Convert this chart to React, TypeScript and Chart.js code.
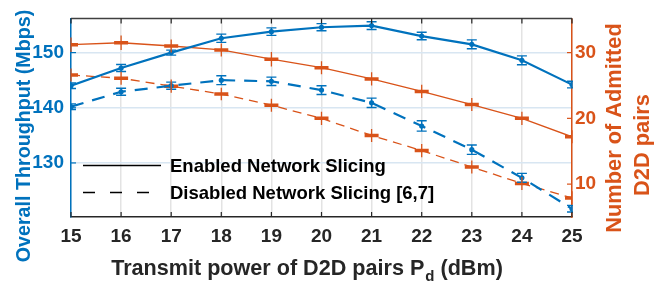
import React, { useEffect, useRef } from "react";
import { Chart, registerables } from "chart.js";
Chart.register(...registerables);

const xValues = [15, 16, 17, 18, 19, 20, 21, 22, 23, 24, 25];
const thrEnabled = [144.0, 147.2, 150.0, 152.6, 153.8, 154.6, 154.9, 153.0, 151.5, 148.6, 144.2];
const thrEnabledErr = [0.5, 0.63, 0.45, 0.75, 0.68, 0.65, 0.7, 0.68, 0.8, 0.8, 0.6];
const thrDisabled = [140.2, 142.9, 144.0, 145.0, 144.8, 143.2, 140.9, 136.7, 132.4, 127.3, 121.7];
const thrDisabledErr = [0.5, 0.63, 0.65, 0.8, 0.75, 0.8, 0.85, 0.94, 0.85, 0.8, 0.6];
const pairsEnabled = [31.2, 31.5, 31.0, 30.4, 29.0, 27.7, 26.0, 24.1, 22.1, 20.0, 17.2];
const pairsEnabledErr = [1.1, 1.1, 1.0, 1.0, 1.1, 1.0, 1.0, 1.0, 1.0, 1.0, 1.0];
const pairsDisabled = [26.6, 26.1, 24.9, 23.7, 22.0, 20.0, 17.4, 15.1, 12.6, 10.1, 7.9];
const pairsDisabledErr = [1.0, 1.0, 1.0, 0.95, 1.0, 1.0, 1.0, 1.0, 1.0, 1.0, 1.0];
const leftTicks = [130, 140, 150];
const rightTicks = [10, 20, 30];
const legendLabels = ["Enabled Network Slicing", "Disabled Network Slicing [6,7]"];

const BLUE = "#0072BD";
const ORANGE = "#D95319";
const DARK = "#262626";
const FONT = "'Liberation Sans', Arial, Helvetica, sans-serif";

const toPts = (ys: number[]) => xValues.map((x, i) => ({ x, y: ys[i] }));

const errorBarPlugin = {
  id: "errorBars",
  afterDatasetsDraw(chart: any) {
    const { ctx, chartArea } = chart;
    ctx.save();
    ctx.beginPath();
    ctx.rect(chartArea.left - 1, chartArea.top - 1, chartArea.right - chartArea.left + 2, chartArea.bottom - chartArea.top + 2);
    ctx.clip();
    chart.data.datasets.forEach((ds: any, di: number) => {
      const meta = chart.getDatasetMeta(di);
      const scale = chart.scales[ds.yAxisID];
      const errs: number[] = ds.errs;
      if (!errs) return;
      ctx.strokeStyle = ds.borderColor;
      ctx.lineWidth = ds.errWidth;
      ctx.setLineDash([]);
      meta.data.forEach((pt: any, i: number) => {
        const v = ds.data[i].y;
        const yTop = scale.getPixelForValue(v + errs[i]);
        const yBot = scale.getPixelForValue(v - errs[i]);
        const x = pt.x;
        ctx.beginPath();
        ctx.moveTo(x, yTop);
        ctx.lineTo(x, yBot);
        if (ds.capHalf > 0) {
          ctx.moveTo(x - ds.capHalf, yTop);
          ctx.lineTo(x + ds.capHalf, yTop);
          ctx.moveTo(x - ds.capHalf, yBot);
          ctx.lineTo(x + ds.capHalf, yBot);
        }
        ctx.stroke();
      });
    });
    ctx.restore();
  },
};

const decorPlugin = {
  id: "decor",
  afterDraw(chart: any) {
    const { ctx, chartArea } = chart;
    const { left, right, top, bottom } = chartArea;
    const xs = chart.scales.x;
    const yl = chart.scales.y;
    const yr = chart.scales.y1;
    ctx.save();
    // top border
    ctx.strokeStyle = "#404040";
    ctx.lineWidth = 1.5;
    ctx.beginPath();
    ctx.moveTo(left, top);
    ctx.lineTo(right, top);
    ctx.stroke();
    // inner ticks
    ctx.strokeStyle = DARK;
    ctx.lineWidth = 1.2;
    xValues.forEach((v) => {
      const px = xs.getPixelForValue(v);
      ctx.beginPath();
      ctx.moveTo(px, bottom);
      ctx.lineTo(px, bottom - 5);
      ctx.moveTo(px, top);
      ctx.lineTo(px, top + 5);
      ctx.stroke();
    });
    ctx.strokeStyle = BLUE;
    leftTicks.forEach((v) => {
      const py = yl.getPixelForValue(v);
      ctx.beginPath();
      ctx.moveTo(left, py);
      ctx.lineTo(left + 5, py);
      ctx.stroke();
    });
    ctx.strokeStyle = ORANGE;
    rightTicks.forEach((v) => {
      const py = yr.getPixelForValue(v);
      ctx.beginPath();
      ctx.moveTo(right, py);
      ctx.lineTo(right - 5, py);
      ctx.stroke();
    });

    // legend
    ctx.strokeStyle = "#000";
    ctx.lineWidth = 1.3;
    ctx.setLineDash([]);
    ctx.beginPath();
    ctx.moveTo(83, 165.5);
    ctx.lineTo(161, 165.5);
    ctx.stroke();
    ctx.setLineDash([12, 15]);
    ctx.beginPath();
    ctx.moveTo(83, 192.5);
    ctx.lineTo(161, 192.5);
    ctx.stroke();
    ctx.setLineDash([]);
    ctx.fillStyle = "#000";
    ctx.font = `bold 18.5px ${FONT}`;
    ctx.textAlign = "left";
    ctx.textBaseline = "middle";
    ctx.fillText(legendLabels[0], 170, 167);
    ctx.fillText(legendLabels[1], 170, 194);

    // left title
    ctx.font = `bold 19.7px ${FONT}`;
    ctx.fillStyle = BLUE;
    ctx.textAlign = "center";
    ctx.save();
    ctx.translate(25, 136);
    ctx.rotate(-Math.PI / 2);
    ctx.fillText("Overall Throughput (Mbps)", 0, 0);
    ctx.restore();

    // right title
    ctx.font = `bold 21.8px ${FONT}`;
    ctx.fillStyle = ORANGE;
    ctx.save();
    ctx.translate(615, 128);
    ctx.rotate(-Math.PI / 2);
    ctx.fillText("Number of Admitted", 0, 0);
    ctx.restore();
    ctx.save();
    ctx.translate(643, 145);
    ctx.rotate(-Math.PI / 2);
    ctx.fillText("D2D pairs", 0, 0);
    ctx.restore();

    // x title with subscript
    const p1 = "Transmit power of D2D pairs P";
    const sub = "d";
    const p2 = " (dBm)";
    const big = `bold 21.6px ${FONT}`;
    const small = `bold 15px ${FONT}`;
    ctx.fillStyle = DARK;
    ctx.textAlign = "left";
    ctx.textBaseline = "alphabetic";
    ctx.font = big;
    const w1 = ctx.measureText(p1).width;
    const w3 = ctx.measureText(p2).width;
    ctx.font = small;
    const w2 = ctx.measureText(sub).width;
    const total = w1 + w2 + w3 + 1;
    const x0 = 307 - total / 2;
    const base = 275;
    ctx.font = big;
    ctx.fillText(p1, x0, base);
    ctx.font = small;
    ctx.fillText(sub, x0 + w1 + 1, base + 6);
    ctx.font = big;
    ctx.fillText(p2, x0 + w1 + w2 + 1, base);
    ctx.restore();
  },
};

export default function App() {
  const ref = useRef<HTMLCanvasElement | null>(null);
  useEffect(() => {
    if (!ref.current) return;
    const chart = new Chart(ref.current, {
      type: "line",
      data: {
        datasets: [
          {
            label: "Throughput enabled",
            data: toPts(thrEnabled),
            yAxisID: "y",
            borderColor: BLUE,
            backgroundColor: BLUE,
            borderWidth: 2.2,
            pointRadius: 2.6,
            pointStyle: "circle",
            pointBorderWidth: 0,
            errs: thrEnabledErr,
            capHalf: 5,
            errWidth: 1.4,
          } as any,
          {
            label: "Throughput disabled",
            data: toPts(thrDisabled),
            yAxisID: "y",
            borderColor: BLUE,
            backgroundColor: BLUE,
            borderWidth: 2.2,
            borderDash: [13, 9],
            pointRadius: 2.6,
            pointStyle: "circle",
            pointBorderWidth: 0,
            errs: thrDisabledErr,
            capHalf: 5,
            errWidth: 1.4,
          } as any,
          {
            label: "Pairs enabled",
            data: toPts(pairsEnabled),
            yAxisID: "y1",
            borderColor: ORANGE,
            backgroundColor: ORANGE,
            borderWidth: 1.3,
            pointRadius: 7,
            pointStyle: "line",
            pointBorderWidth: 3.5,
            pointBorderColor: ORANGE,
            errs: pairsEnabledErr,
            capHalf: 0,
            errWidth: 1.3,
          } as any,
          {
            label: "Pairs disabled",
            data: toPts(pairsDisabled),
            yAxisID: "y1",
            borderColor: ORANGE,
            backgroundColor: ORANGE,
            borderWidth: 1.3,
            borderDash: [9, 6],
            pointRadius: 7,
            pointStyle: "line",
            pointBorderWidth: 3.5,
            pointBorderColor: ORANGE,
            errs: pairsDisabledErr,
            capHalf: 0,
            errWidth: 1.3,
          } as any,
        ],
      },
      options: {
        animation: false,
        responsive: false,
        maintainAspectRatio: false,
        layout: { padding: { top: 5, left: 0, right: 0, bottom: 0 } },
        plugins: { legend: { display: false }, tooltip: { enabled: false } },
        scales: {
          x: {
            type: "linear",
            min: 15,
            max: 25,
            afterBuildTicks: (s: any) => {
              s.ticks = xValues.map((v) => ({ value: v }));
            },
            afterFit: (s: any) => {
              s.height = 66;
            },
            ticks: {
              color: DARK,
              font: { family: FONT, size: 19, weight: "bold" },
              padding: 8,
              maxRotation: 0,
              autoSkip: false,
            },
            grid: { color: "#e3e3e3", lineWidth: 1.5, drawTicks: false },
            border: { color: DARK, width: 1.5 },
          },
          y: {
            type: "linear",
            position: "left",
            min: 120.2,
            max: 156.2,
            afterBuildTicks: (s: any) => {
              s.ticks = leftTicks.map((v) => ({ value: v }));
            },
            afterFit: (s: any) => {
              s.width = 71;
            },
            ticks: {
              color: BLUE,
              font: { family: FONT, size: 19, weight: "bold" },
              padding: 7,
            },
            grid: { color: "#d8e6f2", lineWidth: 1.5, drawTicks: false },
            border: { color: BLUE, width: 1.5 },
          },
          y1: {
            type: "linear",
            position: "right",
            min: 5,
            max: 35.2,
            afterBuildTicks: (s: any) => {
              s.ticks = rightTicks.map((v) => ({ value: v }));
            },
            afterFit: (s: any) => {
              s.width = 92;
            },
            ticks: {
              color: ORANGE,
              font: { family: FONT, size: 19, weight: "bold" },
              padding: 3,
            },
            grid: { drawOnChartArea: false, drawTicks: false },
            border: { color: ORANGE, width: 1.5 },
          },
        },
      } as any,
      plugins: [errorBarPlugin, decorPlugin],
    });
    return () => chart.destroy();
  }, []);
  return (
    <div style={{ position: "fixed", left: 0, top: 0, width: 664, height: 283, background: "#fff" }}>
      <canvas ref={ref} width={664} height={283} style={{ width: 664, height: 283, display: "block" }} />
    </div>
  );
}
